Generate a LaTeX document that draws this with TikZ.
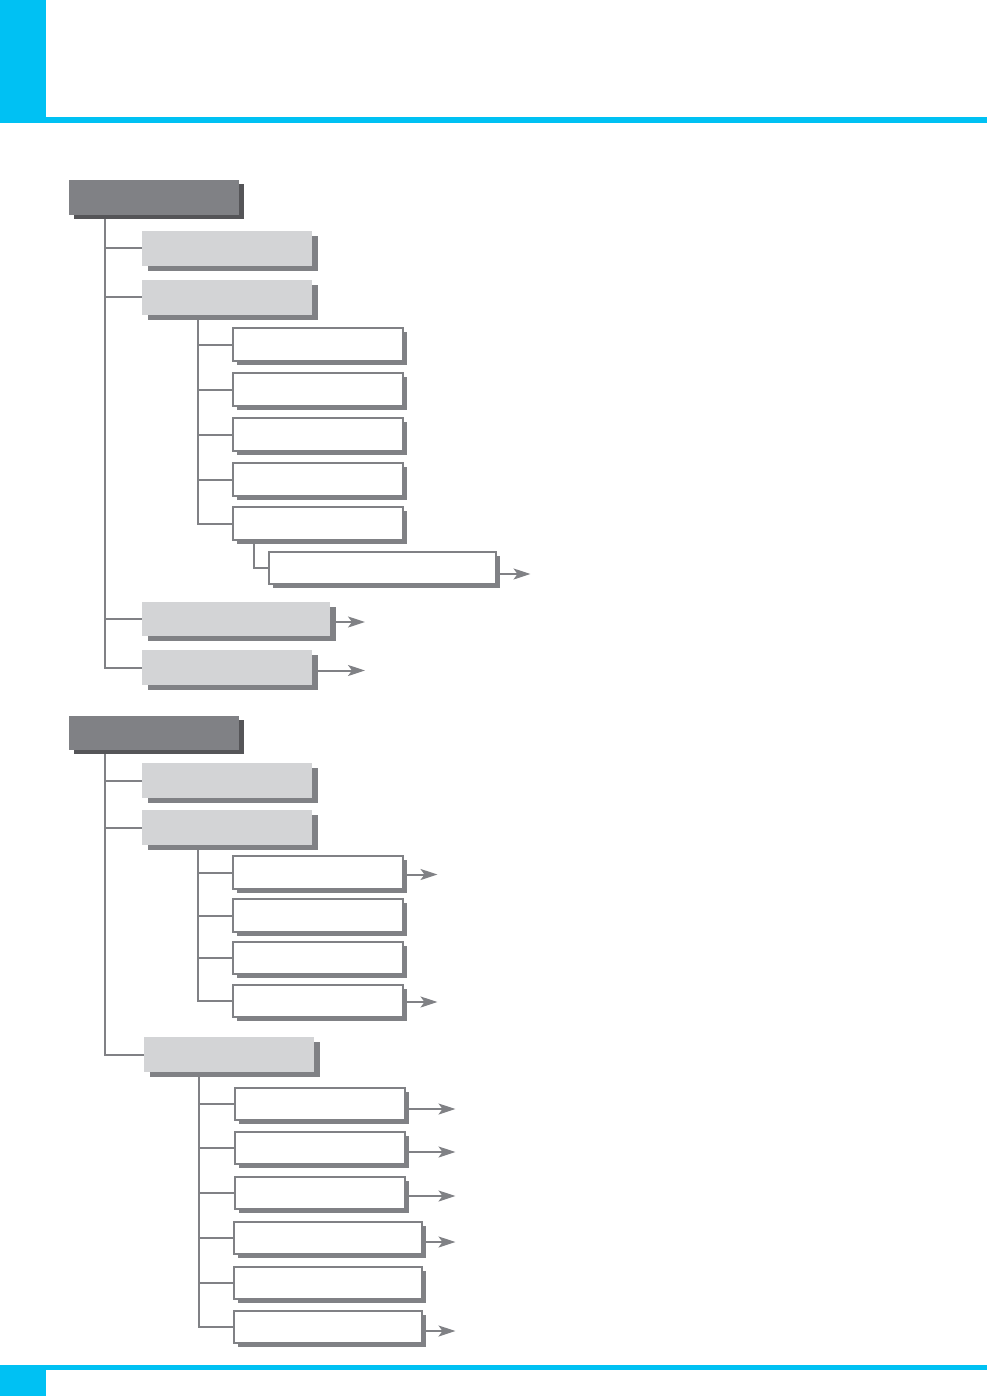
\documentclass[tikz,border=0pt]{standalone}
\usetikzlibrary{shadows,arrows.meta}
\definecolor{cyanbar}{HTML}{00C1F3}
\definecolor{midgray}{HTML}{808185}
\definecolor{darkshadow}{HTML}{555558}
\definecolor{lightfill}{HTML}{D3D4D6}
\begin{document}
\begin{tikzpicture}[x=1pt,y=-1pt,
  every node/.style={inner sep=0pt,outer sep=0pt,anchor=north west},
  darkbox/.style={rectangle,fill=midgray,minimum width=170pt,minimum height=35pt,
    drop shadow={shadow xshift=5pt,shadow yshift=-4pt,fill=darkshadow,opacity=1}},
  lightbox/.style={rectangle,fill=lightfill,minimum width=170pt,minimum height=35pt,
    drop shadow={shadow xshift=6pt,shadow yshift=-5pt,fill=midgray,opacity=1}},
  whitebox/.style={rectangle,fill=white,draw=midgray,line width=1.7pt,minimum width=170pt,minimum height=33pt,
    drop shadow={shadow xshift=3.5pt,shadow yshift=-3.5pt,fill=midgray,opacity=1}},
  conn/.style={draw=midgray,line width=2pt},
  arr/.style={draw=midgray,line width=2pt,-{Stealth[length=17pt,width=11pt,inset=4pt]}}]
\useasboundingbox (0,0) rectangle (987,1396);
% cyan frame
\fill[cyanbar] (0,0) rectangle (46,123);
\fill[cyanbar] (0,117) rectangle (987,123);
\fill[cyanbar] (0,1365) rectangle (987,1370);
\fill[cyanbar] (0,1365) rectangle (46,1396);

% ---- section 1 nodes
\node[darkbox] (h1) at (69,180) {};
\node[lightbox] (L1) at (142,231) {};
\node[lightbox] (L2) at (142,280) {};
\node[whitebox] (W1) at (233,328) {};
\node[whitebox] (W2) at (233,373) {};
\node[whitebox] (W3) at (233,418) {};
\node[whitebox] (W4) at (233,463) {};
\node[whitebox] (W5) at (233,507) {};
\node[whitebox,minimum width=227pt,minimum height=32pt] (W6) at (269,552) {};
\node[lightbox,minimum width=188pt,minimum height=34pt] (L3) at (142,602) {};
\node[lightbox] (L4) at (142,650) {};

% ---- section 2 nodes
\node[darkbox,minimum height=34pt] (h2) at (69,716) {};
\node[lightbox] (M1) at (142,763) {};
\node[lightbox] (M2) at (142,810) {};
\node[whitebox] (X1) at (233,856) {};
\node[whitebox] (X2) at (233,899) {};
\node[whitebox,minimum height=32pt] (X3) at (233,942) {};
\node[whitebox,minimum height=32pt] (X4) at (233,985) {};
\node[lightbox] (M3) at (144,1037) {};
\node[whitebox,minimum height=32pt] (Y1) at (235,1088) {};
\node[whitebox,minimum height=32pt] (Y2) at (235,1132) {};
\node[whitebox,minimum height=32pt] (Y3) at (235,1177) {};
\node[whitebox,minimum width=188pt,minimum height=32pt] (Y4) at (234,1222) {};
\node[whitebox,minimum width=188pt,minimum height=32pt] (Y5) at (234,1267) {};
\node[whitebox,minimum width=188pt,minimum height=32pt] (Y6) at (234,1311) {};

% ---- connectors section 1
\foreach \c in {L1,L2,L3,L4}
  \draw[conn] ([xshift=36pt,yshift=-4pt]h1.south west) |- (\c.west);
\foreach \c in {W1,W2,W3,W4,W5}
  \draw[conn] ([xshift=56pt,yshift=-5pt]L2.south west) |- (\c.west);
\draw[conn] ([xshift=21pt,yshift=-3pt]W5.south west) |- (W6.west);
% connectors section 2
\foreach \c in {M1,M2,M3}
  \draw[conn] ([xshift=36pt,yshift=-4pt]h2.south west) |- (\c.west);
\foreach \c in {X1,X2,X3,X4}
  \draw[conn] ([xshift=56pt,yshift=-5pt]M2.south west) |- (\c.west);
\foreach \c in {Y1,Y2,Y3,Y4,Y5,Y6}
  \draw[conn] ([xshift=55pt,yshift=-5pt]M3.south west) |- (\c.west);

% ---- arrows
\draw[arr] ([shift={(3.5pt,-6pt)}]W6.east) -- ++(31,0);
\draw[arr] ([shift={(5pt,-3pt)}]L3.east) -- ++(30,0);
\draw[arr] ([shift={(6pt,-3pt)}]L4.east) -- ++(47,0);
\draw[arr] ([shift={(3.5pt,-2pt)}]X1.east) -- ++(31,0);
\draw[arr] ([shift={(3.5pt,-1pt)}]X4.east) -- ++(31,0);
\draw[arr] ([shift={(3.5pt,-5pt)}]Y1.east) -- ++(47,0);
\draw[arr] ([shift={(3.5pt,-4pt)}]Y2.east) -- ++(47,0);
\draw[arr] ([shift={(3.5pt,-3pt)}]Y3.east) -- ++(47,0);
\draw[arr] ([shift={(3.5pt,-4pt)}]Y4.east) -- ++(30,0);
\draw[arr] ([shift={(3.5pt,-4pt)}]Y6.east) -- ++(30,0);
\end{tikzpicture}
\end{document}
